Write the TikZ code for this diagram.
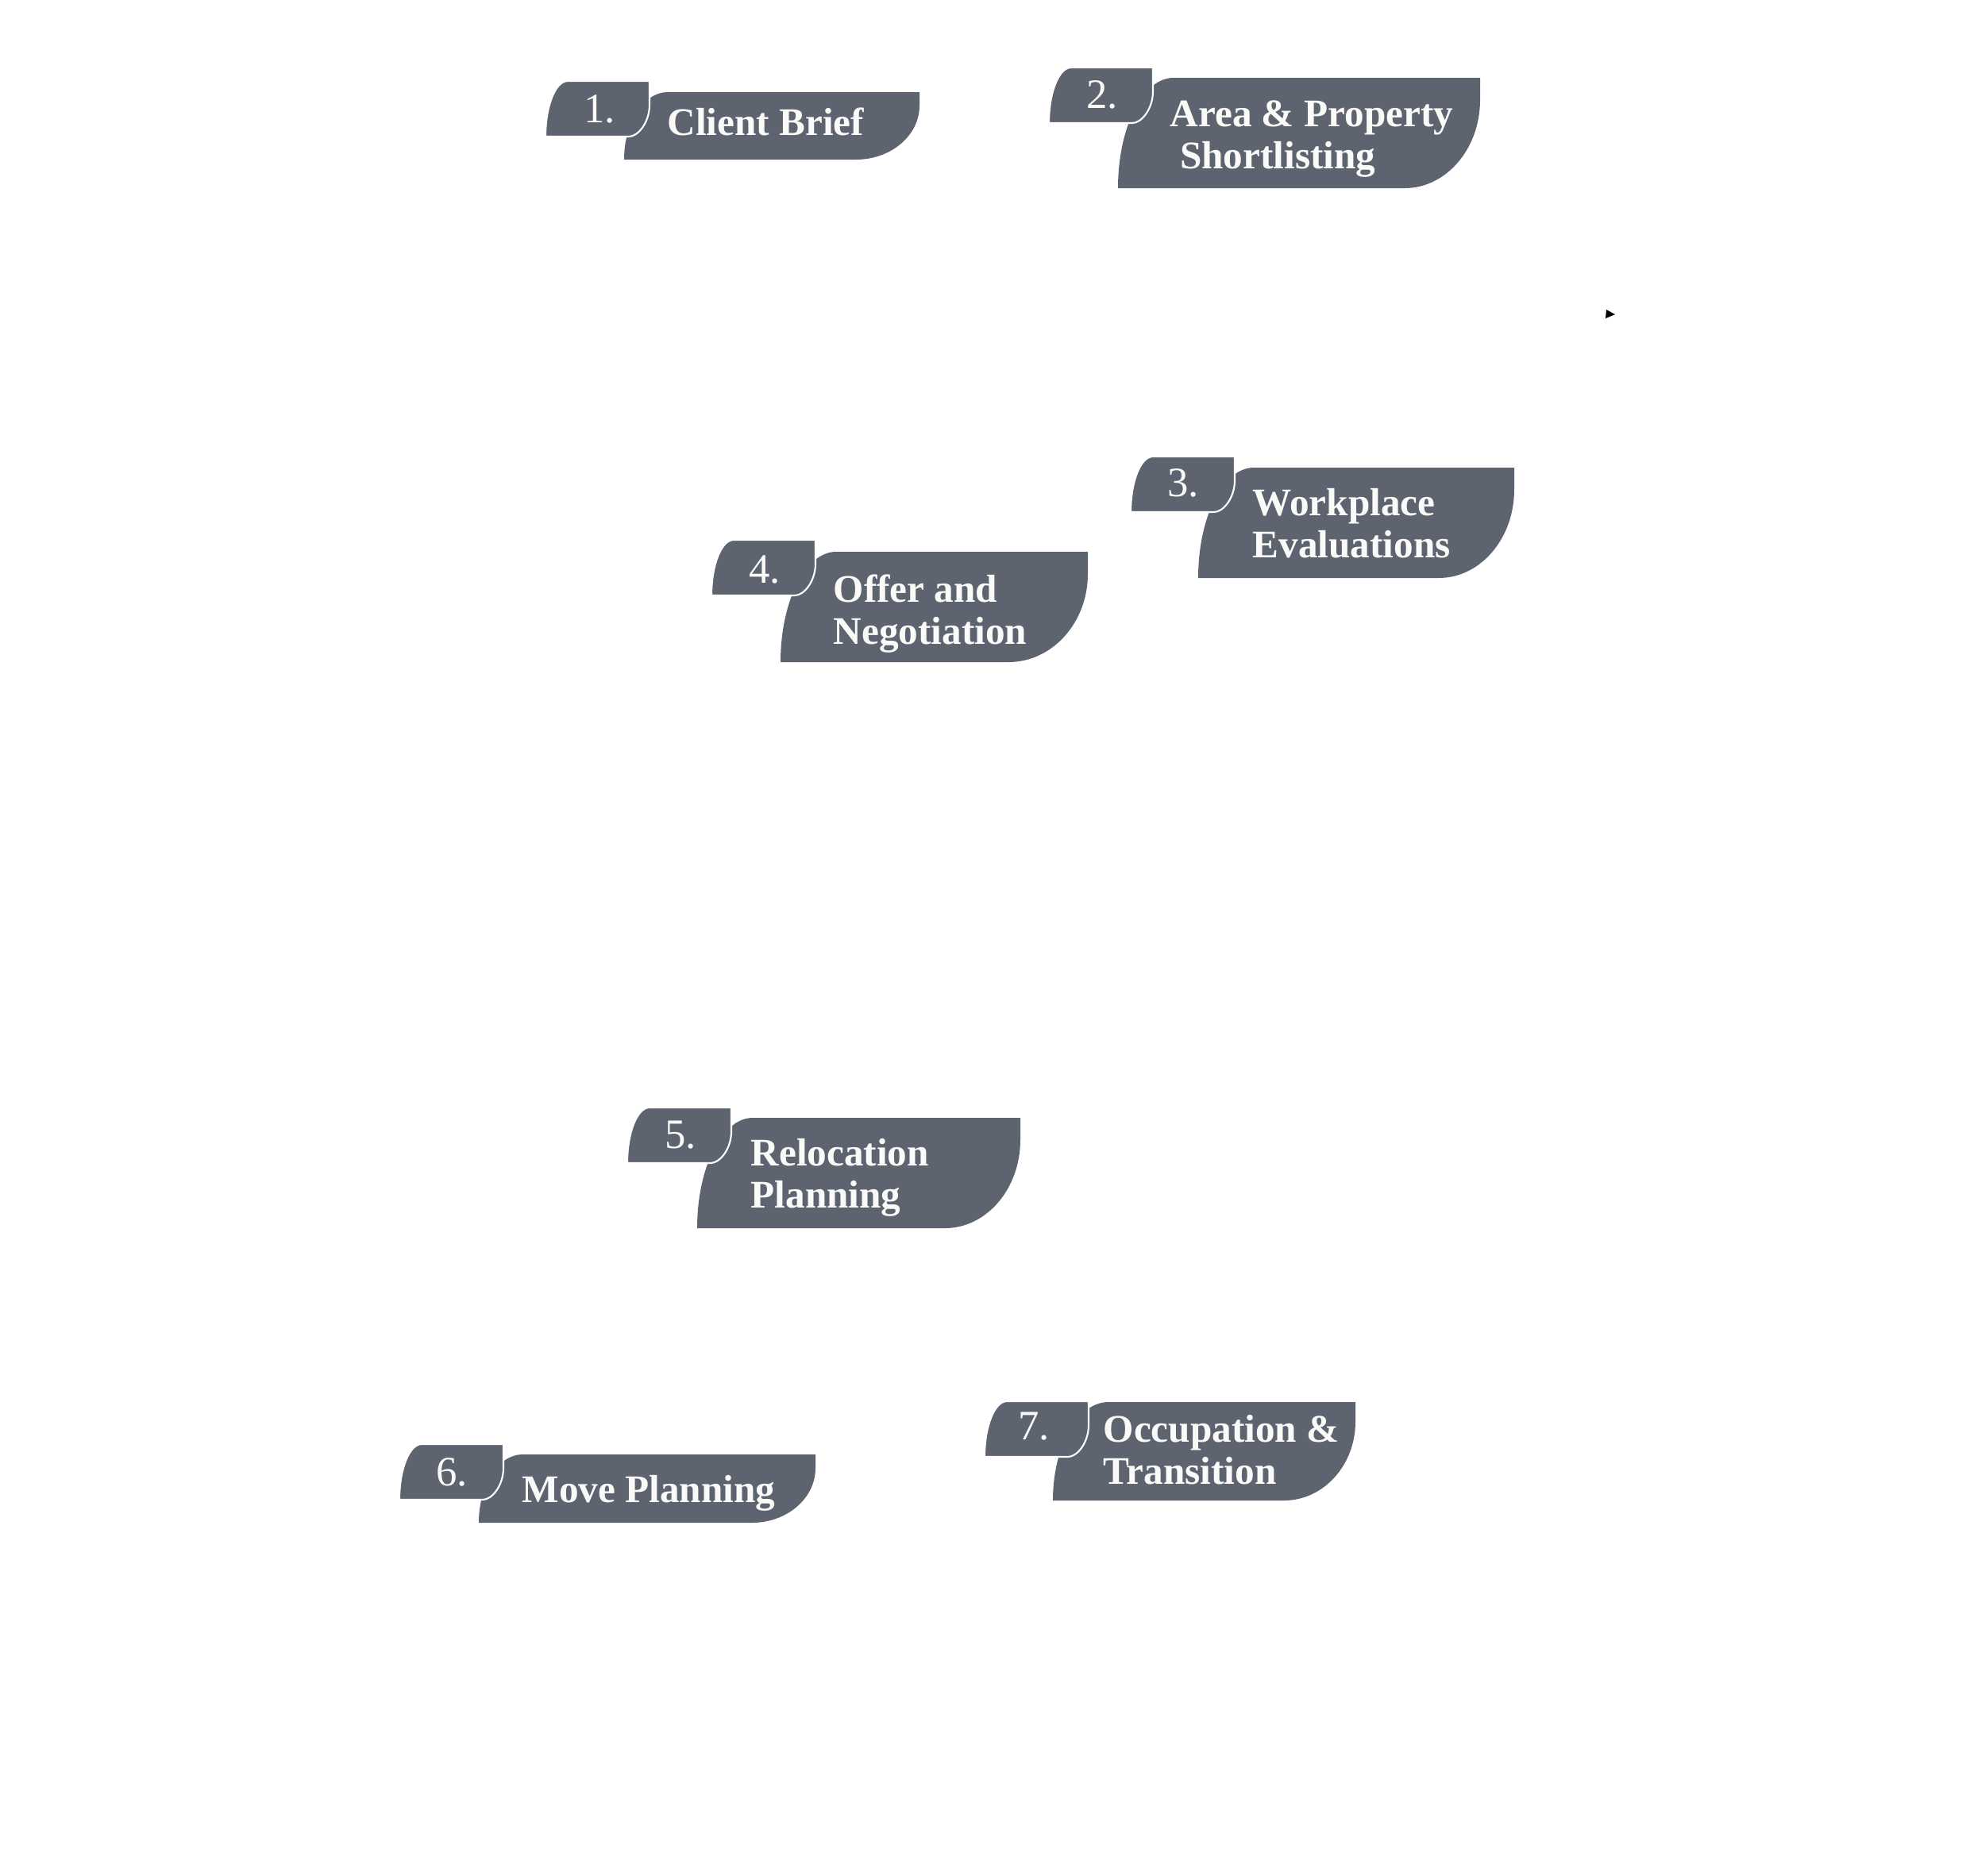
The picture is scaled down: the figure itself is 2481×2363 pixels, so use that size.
\documentclass[tikz,border=0pt]{standalone}
\usepackage{fontspec}
\setmainfont{Liberation Serif}
\definecolor{cardgray}{RGB}{93,100,112}
\definecolor{cardtext}{RGB}{250,250,248}
\tikzset{
  cardfill/.style={fill=cardgray},
  tabfill/.style={fill=cardgray, draw=white, line width=0.6pt},
  numtext/.style={text=cardtext, inner sep=0pt, anchor=base, font=\fontsize{15}{15}\selectfont},
  labtext/.style={text=cardtext, inner sep=0pt, anchor=base west, align=left, font=\bfseries\fontsize{14}{14.8}\selectfont},
}
% main card: x0,y0,x1,y1,rxTL,rxBR
\newcommand{\mainshape}[6]{%
  \pgfmathsetmacro\mh{#4-#2}%
  \fill[cardfill] (#1,#4) .. controls (#1,{#4-0.552*\mh}) and ({#1+0.448*#5},#2) .. ({#1+#5},#2)
    -- (#3,#2) -- (#3,{#4-0.8*\mh}) .. controls (#3,{#4-0.8*0.448*\mh}) and ({#3-0.448*#6},#4) .. ({#3-#6},#4) -- cycle;}
% tab: x0,y0
\newcommand{\tabshape}[2]{%
  \filldraw[tabfill] (#1,{#2+70}) .. controls (#1,{#2+70-0.552*70}) and ({#1+0.448*28},#2) .. ({#1+28},#2)
    -- ({#1+131},#2) -- ({#1+131},{#2+30}) .. controls ({#1+131},{#2+30+0.552*40}) and ({#1+131-0.552*26},{#2+70}) .. ({#1+105},{#2+70}) -- cycle;}
\begin{document}
\begin{tikzpicture}[x=0.01cm,y=-0.01cm]
\useasboundingbox (0,0) rectangle (2481,2363);
% 1
\mainshape{786}{116}{1158}{201}{55}{80}
\tabshape{687}{102}
\node[numtext] (n1) at (755,154) {1.};
\node[labtext] (l1) at (840,170) {Client Brief};
% 2
\mainshape{1408}{98}{1864}{237}{70}{95}
\tabshape{1321}{85}
\node[numtext] (n2) at (1388,136) {2.};
\node[labtext] (l2) at (1473,212) {Area \& Property\\\hspace*{3.5pt}Shortlisting};
% 3
\mainshape{1509}{589}{1907}{728}{70}{95}
\tabshape{1424}{575}
\node[numtext] (n3) at (1490,625) {3.};
\node[labtext] (l3) at (1577,702) {Workplace\\Evaluations};
% 4
\mainshape{983}{695}{1370}{834}{70}{100}
\tabshape{896}{680}
\node[numtext] (n4) at (963,734) {4.};
\node[labtext] (l4) at (1049,811) {Offer and\\Negotiation};
% 5
\mainshape{878}{1408}{1285}{1547}{70}{95}
\tabshape{790}{1395}
\node[numtext] (n5) at (857,1446) {5.};
\node[labtext] (l5) at (945,1521) {Relocation\\Planning};
% 6
\mainshape{603}{1832}{1027}{1918}{55}{80}
\tabshape{503}{1819}
\node[numtext] (n6) at (569,1871) {6.};
\node[labtext] (l6) at (657,1892) {Move Planning};
% 7
\mainshape{1326}{1766}{1707}{1890}{70}{90}
\tabshape{1240}{1765}
\node[numtext] (n7) at (1302,1813) {7.};
\node[labtext] (l7) at (1389,1869) {Occupation \&\\Transition};
% stray arrowhead
\fill[black] (2023,390) -- (2034,396) -- (2022,401) -- cycle;
\end{tikzpicture}
\end{document}
